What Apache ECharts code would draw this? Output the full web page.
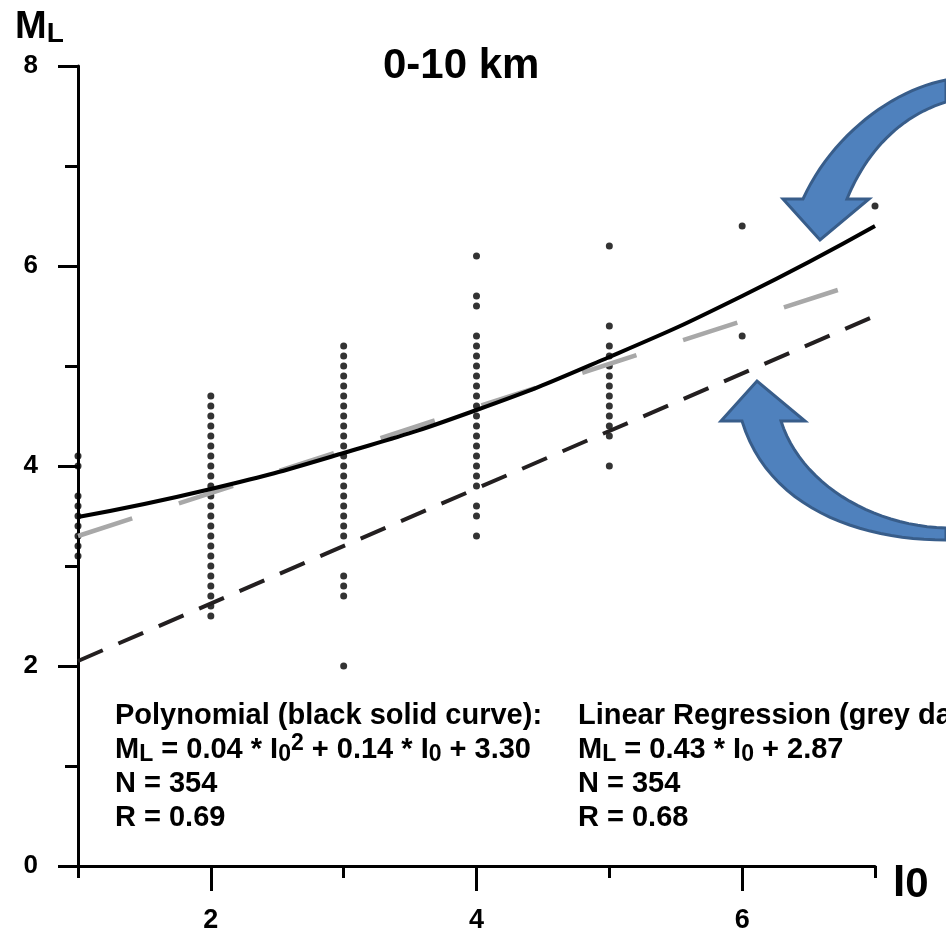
<!DOCTYPE html>
<html>
<head>
<meta charset="utf-8">
<script src="https://cdn.jsdelivr.net/npm/echarts@6/dist/echarts.min.js"></script>
<style>html,body{margin:0;padding:0;background:#fff}#c{width:946px;height:934px}</style>
</head>
<body>
<div id="c"></div>
<script>
// ---- data ----
var intensities = [1, 2, 3, 4, 5, 6, 7];
var ml_I1 = [4.1, 4.0, 3.7, 3.6, 3.5, 3.4, 3.3, 3.2, 3.1];
var ml_I2 = [4.7, 4.6, 4.5, 4.4, 4.3, 4.2, 4.1, 4.0, 3.9, 3.8, 3.7, 3.6, 3.5, 3.4, 3.3, 3.2, 3.1, 3.0, 2.9, 2.8, 2.7, 2.6, 2.5];
var ml_I3 = [5.2, 5.1, 5.0, 4.9, 4.8, 4.7, 4.6, 4.5, 4.4, 4.3, 4.2, 4.1, 4.0, 3.9, 3.8, 3.7, 3.6, 3.5, 3.4, 3.3, 2.9, 2.8, 2.7, 2.0];
var ml_I4 = [6.1, 5.7, 5.6, 5.3, 5.2, 5.1, 5.0, 4.9, 4.8, 4.7, 4.6, 4.5, 4.4, 4.3, 4.2, 4.1, 4.0, 3.9, 3.8, 3.6, 3.5, 3.3];
var ml_I5 = [6.2, 5.4, 5.2, 5.1, 5.0, 4.9, 4.8, 4.7, 4.6, 4.5, 4.4, 4.3, 4.0];
var ml_I6 = [6.4, 5.3];
var ml_I7 = [6.6];
var columns = [ml_I1, ml_I2, ml_I3, ml_I4, ml_I5, ml_I6, ml_I7];

// polynomial fit curve (black solid), read at each intensity
var polyX = [1, 2, 3, 4, 5, 6, 7];
var polyY = [3.49, 3.77, 4.13, 4.56, 5.09, 5.70, 6.40];
// black dashed line
var blackDashX = [1, 7];
var blackDashY = [2.05, 5.50];
// grey dashed line (linear regression)
var greyDashX = [1, 6.72];
var greyDashY = [3.30, 5.76];

var xMajorTicks = [2, 4, 6];
var xMinorTicks = [1, 3, 5, 7];

var FONT = "'Liberation Sans', Arial, sans-serif";

function pairs(xs, ys) { return xs.map(function (x, i) { return [x, ys[i]]; }); }
var scatterData = [];
columns.forEach(function (col, i) {
  col.forEach(function (v) { scatterData.push([intensities[i], v]); });
});

// decorative arrow outlines (pixel space), sampled from cubic Bezier segments
function bez(p0, p1, p2, p3, n) {
  var out = [];
  for (var k = 0; k <= n; k++) {
    var t = k / n, u = 1 - t;
    out.push([
      u * u * u * p0[0] + 3 * u * u * t * p1[0] + 3 * u * t * t * p2[0] + t * t * t * p3[0],
      u * u * u * p0[1] + 3 * u * u * t * p1[1] + 3 * u * t * t * p2[1] + t * t * t * p3[1]
    ]);
  }
  return out;
}
function arrow(outerA, oc1, oc2, outerB, head, innerA, ic1, ic2, innerB) {
  return bez(outerA, oc1, oc2, outerB, 24).concat(head).concat(bez(innerA, ic1, ic2, innerB, 24));
}
var topArrowPts = arrow([946, 80], [893, 90], [832, 135], [803, 199],
  [[783, 199], [820, 240], [869, 199]],
  [847, 199], [866, 152], [900, 116], [946, 102]);
var botArrowPts = arrow([946, 540], [858, 540], [768, 507], [742, 421],
  [[721, 421], [757, 381], [805, 421]],
  [781, 421], [800, 482], [870, 526], [946, 528]);

var rich = {
  n: { fontSize: 29, fontWeight: 'bold', fontFamily: FONT, fill: '#000', color: '#000', lineHeight: 34 },
  sub: { fontSize: 23, fontWeight: 'bold', fontFamily: FONT, fill: '#000', color: '#000', lineHeight: 20, verticalAlign: 'bottom' },
  sup: { fontSize: 23, fontWeight: 'bold', fontFamily: FONT, fill: '#000', color: '#000', lineHeight: 20, verticalAlign: 'top' }
};

var polyText = '{n|Polynomial (black solid curve):}\n' +
  '{n|M}{sub|L}{n| = 0.04 * I}{sub|0}{sup|2}{n| + 0.14 * I}{sub|0}{n| + 3.30}\n' +
  '{n|N = 354}\n{n|R = 0.69}';
var linText = '{n|Linear Regression (grey dashed line):}\n' +
  '{n|M}{sub|L}{n| = 0.43 * I}{sub|0}{n| + 2.87}\n' +
  '{n|N = 354}\n{n|R = 0.68}';

var arrowStyle = { fill: '#4F81BD', stroke: '#385D8A', lineWidth: 3 };

var chart = echarts.init(document.getElementById('c'), null, { renderer: 'canvas' });
chart.setOption({
  animation: false,
  backgroundColor: '#fff',
  title: {
    text: '0-10 km', left: 378, top: 40,
    textStyle: { fontSize: 42, fontWeight: 'bold', fontFamily: FONT, color: '#000' }
  },
  grid: { left: 78, right: 71, top: 66, bottom: 66, containLabel: false },
  xAxis: [{
    type: 'value', min: 1, max: 7, position: 'bottom',
    axisLine: { show: true, lineStyle: { color: '#000', width: 3 } },
    axisTick: { show: true, length: 25, customValues: xMajorTicks, lineStyle: { color: '#000', width: 3 } },
    axisLabel: { show: true, customValues: xMajorTicks, margin: 41, fontSize: 27, fontWeight: 'bold', fontFamily: FONT, color: '#000' },
    splitLine: { show: false }
  }, {
    type: 'value', min: 1, max: 7, position: 'bottom',
    axisLine: { show: false },
    axisTick: { show: true, length: 12, customValues: xMinorTicks, lineStyle: { color: '#000', width: 3 } },
    axisLabel: { show: false },
    splitLine: { show: false }
  }],
  yAxis: {
    type: 'value', min: 0, max: 8, interval: 2,
    axisLine: { show: true, lineStyle: { color: '#000', width: 3 } },
    axisTick: { show: true, length: 20, lineStyle: { color: '#000', width: 3 } },
    minorTick: { show: true, splitNumber: 2, length: 13, lineStyle: { color: '#000', width: 3 } },
    axisLabel: { margin: 40, fontSize: 26, fontWeight: 'bold', fontFamily: FONT, color: '#000' },
    splitLine: { show: false }, minorSplitLine: { show: false }
  },
  series: [
    {
      name: 'Observations', type: 'scatter', data: scatterData,
      symbol: 'circle', symbolSize: 7, itemStyle: { color: '#000' }, z: 2
    },
    {
      name: 'Linear regression', type: 'line', data: pairs(greyDashX, greyDashY),
      symbol: 'none', lineStyle: { color: '#a8a8a8', width: 4.5, type: [57, 49], cap: 'butt' }, z: 3
    },
    {
      name: 'Black dashed', type: 'line', data: pairs(blackDashX, blackDashY),
      symbol: 'none', lineStyle: { color: '#231f20', width: 4, type: [27, 17], cap: 'butt' }, z: 4
    },
    {
      name: 'Polynomial', type: 'line', data: pairs(polyX, polyY), smooth: true,
      symbol: 'none', lineStyle: { color: '#000', width: 4 }, z: 5
    }
  ],
  graphic: [
    {
      type: 'text', left: 15, top: 9, z: 10,
      style: {
        text: '{m|M}{l|L}',
        rich: {
          m: { fontSize: 38, fontWeight: 'bold', fontFamily: FONT, fill: '#000', lineHeight: 40 },
          l: { fontSize: 28, fontWeight: 'bold', fontFamily: FONT, fill: '#000', lineHeight: 26, verticalAlign: 'bottom' }
        }
      }
    },
    {
      type: 'text', left: 893, top: 862, z: 10,
      style: {
        text: '{i|I}{o|0}',
        rich: {
          i: { fontSize: 44, fontWeight: 'bold', fontFamily: FONT, fill: '#000', lineHeight: 44 },
          o: { fontSize: 42, fontWeight: 'bold', fontFamily: FONT, fill: '#000', lineHeight: 40, verticalAlign: 'bottom' }
        }
      }
    },
    { type: 'text', left: 115, top: 701, z: 10, style: { text: polyText, rich: rich, fill: '#000' } },
    { type: 'text', left: 578, top: 701, z: 10, style: { text: linText, rich: rich, fill: '#000' } },
    { type: 'polygon', z: 20, shape: { points: topArrowPts }, style: arrowStyle },
    { type: 'polygon', z: 20, shape: { points: botArrowPts }, style: arrowStyle }
  ]
});
</script>
</body>
</html>
